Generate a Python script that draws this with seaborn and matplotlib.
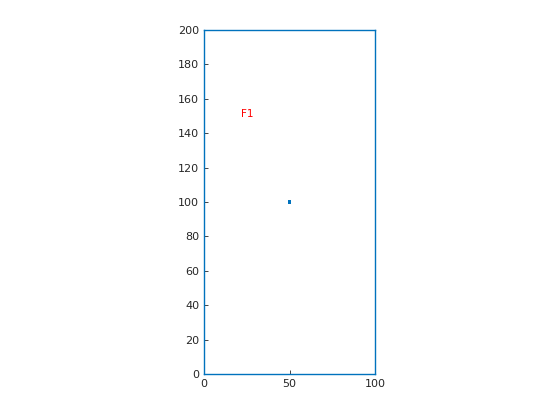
import matplotlib
matplotlib.use("Agg")
import matplotlib.pyplot as plt
import seaborn as sns
import pandas as pd

# data
point_x = [50]
point_y = [100]
label_text = ["F1"]
label_x = [21.5]
label_y = [151]
xticks = [0, 50, 100]
yticks = [0, 20, 40, 60, 80, 100, 120, 140, 160, 180, 200]

sns.set_style("white")
plt.rcParams['font.family'] = ['DejaVu Sans']

fig = plt.figure(figsize=(5.6, 4.2), dpi=100)
ax = fig.add_axes([204/560, 1-374/420, (375-204)/560, (374-30)/420])

df = pd.DataFrame({"x": point_x, "y": point_y})
sns.scatterplot(data=df, x="x", y="y", ax=ax, marker="s", s=5, color="#0072BD",
                edgecolor="none", legend=False)

for t, tx, ty in zip(label_text, label_x, label_y):
    ax.text(tx, ty, t, color="red", fontsize=7.5, ha="left", va="center")

ax.set_xlim(0, 100)
ax.set_ylim(0, 200)
ax.set_xticks(xticks)
ax.set_yticks(yticks)
ax.set_xlabel("")
ax.set_ylabel("")
for s in ax.spines.values():
    s.set_color("#0072BD")
    s.set_linewidth(1.0)
    s.set_visible(True)
ax.tick_params(direction="in", length=3, width=0.6, color="#262626",
               labelcolor="#262626", labelsize=8, bottom=True, left=True)

fig.savefig("out.png", dpi=100, facecolor="white")
